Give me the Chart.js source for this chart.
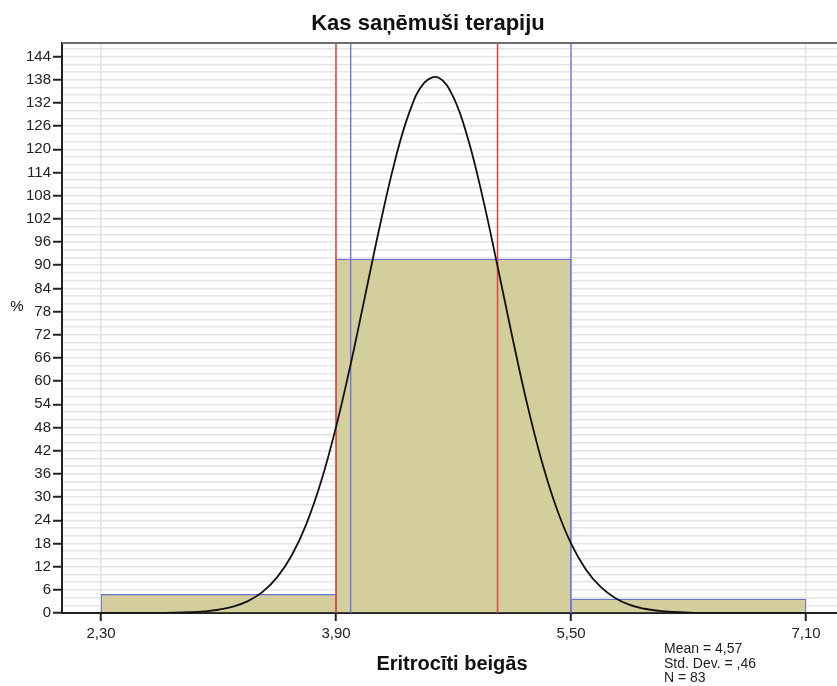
<!DOCTYPE html>
<html>
<head>
<meta charset="utf-8">
<script src="https://cdn.jsdelivr.net/npm/chart.js@4.4.1/dist/chart.umd.min.js"></script>
<style>
html,body{margin:0;padding:0;background:#fff;}
#wrap{width:837px;height:686px;}
</style>
</head>
<body>
<div id="wrap"><canvas id="c" width="837" height="686"></canvas></div>
<script>
// ---- data ----
const binCenters = [3.1, 4.7, 6.3];          // bins 2.30-3.90, 3.90-5.50, 5.50-7.10
const binPercents = [4.82, 91.57, 3.61];      // % of N = 83
const xTickValues = [2.30, 3.90, 5.50, 7.10];
const redLines = [3.90, 5.00];
const blueLines = [4.00, 5.50];
const curveX = [2.3,2.4,2.5,2.6,2.7,2.8,2.9,3.0,3.1,3.2,3.3,3.4,3.5,3.6,3.7,3.8,3.9,4.0,4.1,4.2,4.3,4.4,4.5,4.6,4.7,4.8,4.9,5.0,5.1,5.2,5.3,5.4,5.5,5.6,5.7,5.8,5.9,6.0,6.1,6.2,6.3,6.4,6.5,6.6,6.7,6.8,6.9,7.0,7.1];
const curveY = [0,0,0.01,0.02,0.04,0.08,0.19,0.41,0.84,1.65,3.07,5.46,9.28,15.0,23.2,34.2,48.1,64.4,82.4,100.4,116.8,129.6,137.2,138.5,133.4,122.5,107.3,89.7,71.5,54.3,39.4,27.3,18.0,11.3,6.8,3.9,2.1,1.1,0.55,0.26,0.12,0.05,0.02,0.01,0,0,0,0,0];
const statsLines = ['Mean = 4,57', 'Std. Dev. = ,46', 'N = 83'];
const chartTitle = 'Kas saņēmuši terapiju';
const xTitle = 'Eritrocīti beigās';
const yTitle = '%';

const X_MIN = 2.0345, X_MAX = 7.311, Y_MAX = 147.5;
const FONT = '"Liberation Sans", Arial, sans-serif';

const fmt = v => v.toFixed(2).replace('.', ',');

const datasets = [];
datasets.push({
  type: 'bar',
  data: binCenters.map((x, i) => ({x: x, y: binPercents[i]})),
  backgroundColor: 'rgb(211,206,155)',
  borderColor: 'rgb(105,115,205)',
  borderWidth: 1.2,
  barPercentage: 1.0,
  categoryPercentage: 1.0,
  order: 4
});
redLines.forEach(v => datasets.push({
  type: 'line',
  data: [{x: v, y: 0}, {x: v, y: Y_MAX}],
  borderColor: 'rgb(232,72,68)',
  borderWidth: 1.6,
  pointRadius: 0,
  order: 2
}));
blueLines.forEach(v => datasets.push({
  type: 'line',
  data: [{x: v, y: 0}, {x: v, y: Y_MAX}],
  borderColor: 'rgb(112,120,222)',
  borderWidth: 1.4,
  pointRadius: 0,
  order: 3
}));
datasets.push({
  type: 'line',
  data: curveX.map((x, i) => ({x: x, y: curveY[i]})),
  borderColor: '#111',
  borderWidth: 1.8,
  pointRadius: 0,
  tension: 0.4,
  order: 1
});

const textPlugin = {
  id: 'texts',
  afterDraw(chart) {
    const ctx = chart.ctx;
    const a = chart.chartArea;
    ctx.save();
    ctx.strokeStyle = '#6e6e6e';
    ctx.lineWidth = 2;
    ctx.beginPath();
    ctx.moveTo(a.left, a.top);
    ctx.lineTo(837, a.top);
    ctx.stroke();
    ctx.fillStyle = '#111';
    ctx.textAlign = 'center';
    ctx.textBaseline = 'alphabetic';
    ctx.font = 'bold 22px ' + FONT;
    ctx.fillText(chartTitle, 428, 30);
    ctx.font = 'bold 20px ' + FONT;
    ctx.fillText(xTitle, 452, 670);
    ctx.font = '15px ' + FONT;
    ctx.fillText(yTitle, 17, 311);
    ctx.textAlign = 'left';
    ctx.font = '14px ' + FONT;
    ctx.fillStyle = '#222';
    statsLines.forEach((s, i) => ctx.fillText(s, 664, 653 + i * 14.5));
    ctx.restore();
  }
};

new Chart(document.getElementById('c'), {
  data: {datasets: datasets},
  options: {
    responsive: false,
    animation: false,
    layout: {padding: {top: 43, right: 0, left: 0, bottom: 0}},
    plugins: {legend: {display: false}, title: {display: false}, tooltip: {enabled: false}},
    scales: {
      x: {
        type: 'linear',
        offset: false,
        min: X_MIN, max: X_MAX,
        afterBuildTicks: s => { s.ticks = xTickValues.map(v => ({value: v})); },
        afterFit: s => { s.height = 73; },
        ticks: {
          callback: v => fmt(v),
          color: '#222',
          font: {family: FONT, size: 15},
          padding: 4,
          maxRotation: 0,
          autoSkip: false
        },
        grid: {offset: false, color: '#e4e4e4', lineWidth: 1.5, tickColor: '#222', tickLength: 8, tickWidth: 2},
        border: {display: true, color: '#222', width: 2}
      },
      y: {
        type: 'linear',
        min: 0, max: Y_MAX,
        afterBuildTicks: s => { const t = []; for (let v = 0; v <= 146; v += 2) t.push({value: v}); s.ticks = t; },
        afterFit: s => { s.width = 62; },
        ticks: {
          callback: v => (v % 6 === 0 ? String(v) : ''),
          color: '#222',
          font: {family: FONT, size: 15},
          padding: 2,
          autoSkip: false
        },
        grid: {
          color: c => (c.tick && c.tick.value === 0 ? 'rgba(0,0,0,0)' : '#e4e4e4'),
          lineWidth: 1.5,
          tickColor: c => (c.tick && c.tick.value % 6 === 0 ? '#222' : 'rgba(0,0,0,0)'),
          tickLength: 9,
          tickWidth: 2
        },
        border: {display: true, color: '#222', width: 2}
      }
    }
  },
  plugins: [textPlugin]
});
</script>
</body>
</html>
